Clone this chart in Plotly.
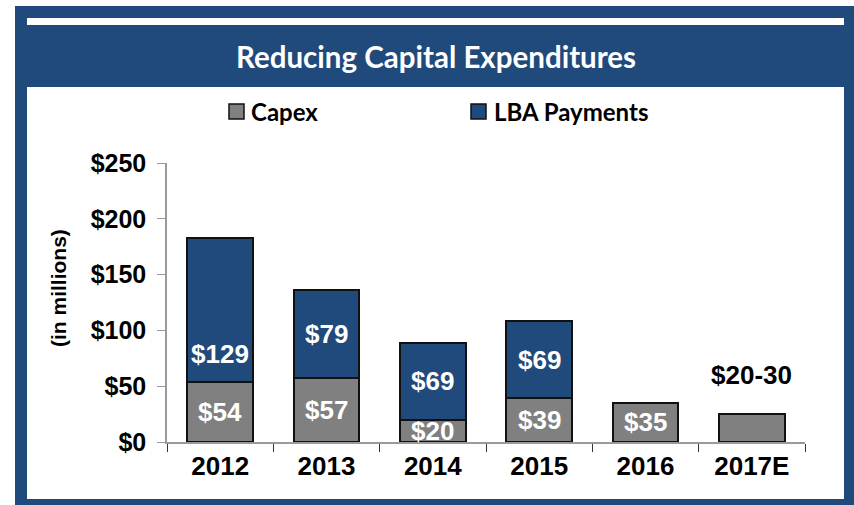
import plotly.graph_objects as go

# ---- data ----
years = ["2012", "2013", "2014", "2015", "2016", "2017E"]
capex = [54, 57, 20, 39, 35, 25]
lba = [129, 79, 69, 69, None, None]
capex_labels = ["$54", "$57", "$20", "$39", "$35", ""]
lba_labels = ["$129", "$79", "$69", "$69", "", ""]
estimate_label = "$20-30"
y_ticks = [0, 50, 100, 150, 200, 250]
y_tick_text = ["$0", "$50", "$100", "$150", "$200", "$250"]
title_text = "Reducing Capital Expenditures"
y_title = "(in millions)"

# ---- styling ----
BLUE = "#214A7C"
GRAY = "#808080"
AXIS = "#9A9A9A"
W, H = 854, 505
L, R, T, B = 167, 49, 163, 63
PW, PH = W - L - R, H - T - B
FONT = "Liberation Sans, Arial, sans-serif"
TFONT = "Lato, Open Sans, sans-serif"


def px(x):
    return (x - L) / PW


def py(y):
    return (H - B - y) / PH


fig = go.Figure()
fig.add_trace(go.Bar(x=years, y=capex, name="Capex", marker=dict(color=GRAY, line=dict(color="#111111", width=2)),
                     showlegend=False, hoverinfo="skip"))
fig.add_trace(go.Bar(x=years, y=lba, name="LBA Payments", marker=dict(color=BLUE, line=dict(color="#111111", width=2)),
                     showlegend=False, hoverinfo="skip"))

annotations = []
# capex labels centred in segments (x given as category index)
for i, (v, t) in enumerate(zip(capex, capex_labels)):
    if t:
        annotations.append(dict(x=i, y=v / 2, text="<b>" + t + "</b>", showarrow=False, xref="x", yref="y",
                                font=dict(family=FONT, size=26, color="white"), yanchor="middle"))
# LBA labels (2012 label sits in the lower part of its segment)
for i, (c, v, t) in enumerate(zip(capex, lba, lba_labels)):
    if t and v is not None:
        ypos = c + v / 2
        if i == 0:
            ypos = c + v * 0.19
        annotations.append(dict(x=i, y=ypos, text="<b>" + t + "</b>", showarrow=False, xref="x", yref="y",
                                font=dict(family=FONT, size=26, color="white"), yanchor="middle"))
annotations.append(dict(x=len(years) - 1, y=capex[-1], text="<b>" + estimate_label + "</b>", showarrow=False,
                        xref="x", yref="y", yanchor="bottom", yshift=22,
                        font=dict(family=FONT, size=26, color="black")))
# title
annotations.append(dict(x=px(435.5), y=py(56), xref="paper", yref="paper", text="<b>" + title_text + "</b>",
                        showarrow=False, xanchor="center", yanchor="middle",
                        font=dict(family=TFONT, size=29.5, color="white")))
# legend texts
annotations.append(dict(x=px(249), y=py(111), xref="paper", yref="paper", text="<b>Capex</b>",
                        showarrow=False, xanchor="left", yanchor="middle",
                        font=dict(family=TFONT, size=24, color="black")))
annotations.append(dict(x=px(492), y=py(111), xref="paper", yref="paper", text="<b>LBA Payments</b>",
                        showarrow=False, xanchor="left", yanchor="middle",
                        font=dict(family=TFONT, size=24, color="black")))
# y-axis title
annotations.append(dict(x=px(58), y=py(288), xref="paper", yref="paper", text="<b>" + y_title + "</b>",
                        showarrow=False, textangle=-90, xanchor="center", yanchor="middle",
                        font=dict(family=FONT, size=21, color="black")))

shapes = [
    dict(type="rect", xref="paper", yref="paper", x0=px(15), x1=px(860), y0=py(6), y1=py(510),
         fillcolor=BLUE, line=dict(width=0), layer="below"),
    dict(type="rect", xref="paper", yref="paper", x0=px(27), x1=px(844), y0=py(18), y1=py(25),
         fillcolor="white", line=dict(width=0), layer="below"),
    dict(type="rect", xref="paper", yref="paper", x0=px(27), x1=px(844), y0=py(87), y1=py(499),
         fillcolor="white", line=dict(width=0), layer="below"),
    # legend swatches
    dict(type="rect", xref="paper", yref="paper", x0=px(229), x1=px(244), y0=py(104), y1=py(119),
         fillcolor=GRAY, line=dict(color="#111111", width=1.5)),
    dict(type="rect", xref="paper", yref="paper", x0=px(471), x1=px(486), y0=py(104), y1=py(119),
         fillcolor=BLUE, line=dict(color="#111111", width=1.5)),
]

fig.update_layout(
    width=W, height=H, margin=dict(l=L, r=R, t=T, b=B, autoexpand=False),
    barmode="stack", bargap=0.38,
    paper_bgcolor="white", plot_bgcolor="rgba(0,0,0,0)",
    annotations=annotations, shapes=shapes, showlegend=False,
    xaxis=dict(type="category", range=[-0.5, len(years) - 0.5], tickson="boundaries", ticks="outside",
               ticklen=8, tickcolor="#333333",
               showline=True, linecolor=AXIS, linewidth=1.5, showgrid=False, zeroline=False,
               tickfont=dict(family=FONT, size=26, color="black"), tickprefix="<b>", ticksuffix="</b>"),
    yaxis=dict(range=[0, 250], tickvals=y_ticks, ticktext=["<b>" + t + "</b>" for t in y_tick_text],
               ticks="outside", ticklen=8, tickcolor=AXIS, showline=True, linecolor=AXIS, linewidth=1.5,
               ticklabelstandoff=6,
               showgrid=False, zeroline=False, tickfont=dict(family=FONT, size=25, color="black")),
)

fig.write_html("out.html", config={"displayModeBar": False},
               post_script="document.body.style.margin='0';")
